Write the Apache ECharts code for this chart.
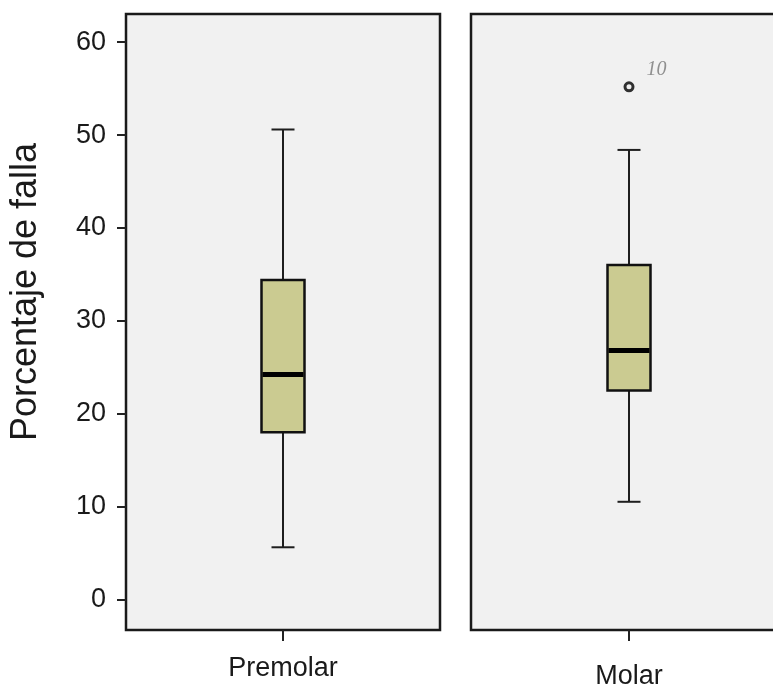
<!DOCTYPE html>
<html>
<head>
<meta charset="utf-8">
<script src="https://cdn.jsdelivr.net/npm/echarts@6/dist/echarts.min.js"></script>
<style>
  html, body { margin: 0; padding: 0; background: #ffffff; }
  #chart { width: 773px; height: 692px; }
</style>
</head>
<body>
<div id="chart"></div>
<script>
// ---- Data ----
const categories   = ['Premolar', 'Molar'];
const whiskerLow   = [5.6, 10.5];
const q1           = [18.0, 22.5];
const median       = [24.2, 26.8];
const q3           = [34.4, 36.0];
const whiskerHigh  = [50.6, 48.4];
const outlierCategory = ['Molar'];
const outlierValues   = [55.2];
const outlierLabels   = ['10'];
const yTicks = [0, 10, 20, 30, 40, 50, 60];
const yTitle = 'Porcentaje de falla';

const FONT = "'Liberation Sans', Arial, Helvetica, sans-serif";
const Y_MIN = -3.31, Y_MAX = 63.04;

function renderBox(params, api) {
  const x = api.value(0);
  const lo = api.coord([x, api.value(1)]);
  const a = api.coord([x, api.value(2)]);
  const md = api.coord([x, api.value(3)]);
  const b = api.coord([x, api.value(4)]);
  const hi = api.coord([x, api.value(5)]);
  const cx = lo[0];
  const bw = 43, cw = 23;
  const ls = { stroke: '#1e1e1e', lineWidth: 2 };
  return {
    type: 'group',
    children: [
      { type: 'line', shape: { x1: cx, y1: hi[1], x2: cx, y2: b[1] }, style: ls },
      { type: 'line', shape: { x1: cx, y1: a[1], x2: cx, y2: lo[1] }, style: ls },
      { type: 'line', shape: { x1: cx - cw / 2, y1: hi[1], x2: cx + cw / 2, y2: hi[1] }, style: ls },
      { type: 'line', shape: { x1: cx - cw / 2, y1: lo[1], x2: cx + cw / 2, y2: lo[1] }, style: ls },
      { type: 'rect', shape: { x: cx - bw / 2, y: b[1], width: bw, height: a[1] - b[1] },
        style: { fill: '#cbcb91', stroke: '#111111', lineWidth: 2.5 } },
      { type: 'line', shape: { x1: cx - bw / 2 + 1, y1: md[1], x2: cx + bw / 2 - 1, y2: md[1] },
        style: { stroke: '#000000', lineWidth: 5 } }
    ]
  };
}

const grids = [
  { left: 126, top: 14, width: 314, height: 616 },
  { left: 471, top: 14, width: 316, height: 616 }
];

const xAxes = categories.map((c, i) => ({
  type: 'category',
  gridIndex: i,
  data: [c],
  boundaryGap: true,
  axisLine: { show: false, onZero: false },
  axisTick: { show: true, alignWithLabel: true, length: 11, lineStyle: { color: '#222', width: 2 } },
  axisLabel: { fontFamily: FONT, fontSize: 27, color: '#1a1a1a', margin: i === 0 ? 25 : 33 }
}));

const yAxes = categories.map((c, i) => ({
  type: 'value',
  gridIndex: i,
  min: Y_MIN,
  max: Y_MAX,
  splitLine: { show: false },
  axisLine: { show: false },
  axisTick: { show: i === 0, length: 9, lineStyle: { color: '#222', width: 2 }, customValues: yTicks },
  axisLabel: { show: i === 0, fontFamily: FONT, fontSize: 27, color: '#1a1a1a', margin: 20, customValues: yTicks },
  name: i === 0 ? yTitle : '',
  nameLocation: 'middle',
  nameRotate: 90,
  nameGap: 82,
  nameTextStyle: { fontFamily: FONT, fontSize: 36, color: '#1a1a1a', padding: [0, 0, 0, 60] }
}));

const series = categories.map((c, i) => ({
  type: 'custom',
  xAxisIndex: i,
  yAxisIndex: i,
  renderItem: renderBox,
  encode: { x: 0, y: [1, 2, 3, 4, 5] },
  data: [[0, whiskerLow[i], q1[i], median[i], q3[i], whiskerHigh[i]]],
  z: 3
}));

outlierCategory.forEach((c, k) => {
  const i = categories.indexOf(c);
  series.push({
    type: 'scatter',
    xAxisIndex: i,
    yAxisIndex: i,
    symbol: 'circle',
    symbolSize: 8,
    itemStyle: { color: '#f0f0f0', borderColor: '#000', borderWidth: 3 },
    label: {
      show: true,
      formatter: () => outlierLabels[k],
      position: 'right',
      offset: [7, -17],
      fontFamily: "'Liberation Serif', 'Times New Roman', serif",
      fontStyle: 'italic',
      fontSize: 20,
      color: '#777777'
    },
    data: [[0, outlierValues[k]]],
    z: 4
  });
});

const chart = echarts.init(document.getElementById('chart'), null, { renderer: 'canvas' });
chart.setOption({
  animation: false,
  backgroundColor: '#ffffff',
  grid: grids.map(g => Object.assign({ show: true, backgroundColor: '#f1f1f1', borderColor: '#1a1a1a', borderWidth: 2.5, outerBoundsMode: 'none', containLabel: false }, g)),
  xAxis: xAxes,
  yAxis: yAxes,
  series: series
});
</script>
</body>
</html>
